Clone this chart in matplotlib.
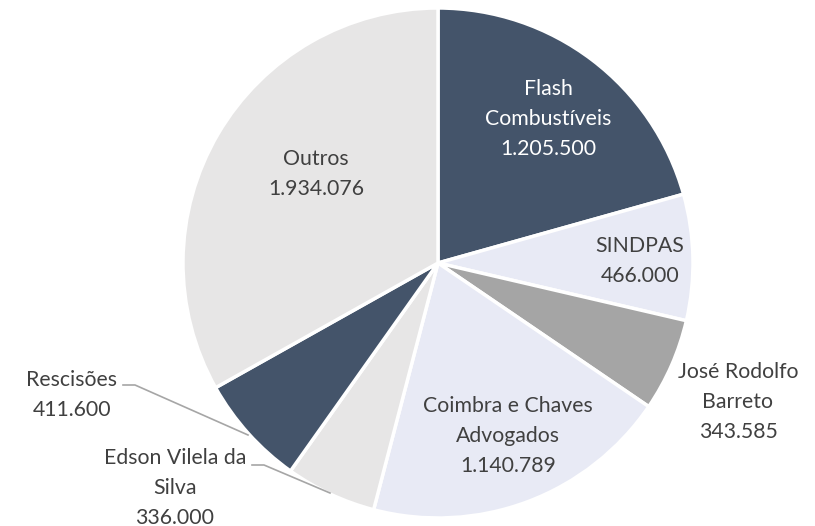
import matplotlib
matplotlib.use("Agg")
import matplotlib.pyplot as plt

labels = ["Flash\nCombustíveis", "SINDPAS", "José Rodolfo\nBarreto", "Coimbra e Chaves\nAdvogados",
          "Edson Vilela da\nSilva", "Rescisões", "Outros"]
values = [1205500, 466000, 343585, 1140789, 336000, 411600, 1934076]
colors = ["#44546a", "#e8eaf5", "#a5a5a5", "#e8eaf5", "#e7e6e6", "#44546a", "#e7e6e6"]
text_colors = ["white", "#404040", "#404040", "#404040", "#404040", "#404040", "#404040"]

# label centres in pixel coords (x, y from top)
label_pos = [(548, 119), (640, 261), (738, 402), (508, 436), (175, 488), (72, 395), (316, 174)]

def fmt(v):
    return f"{v:,}".replace(",", ".")

W, H = 815, 526
fig = plt.figure(figsize=(W / 100, H / 100), dpi=100)
ax = fig.add_axes([0, 0, 1, 1])

cx, cy, r = 438, H - 263, 255
ax.pie(values, colors=colors, startangle=90, counterclock=False, center=(cx, cy), radius=r,
       wedgeprops=dict(edgecolor="white", linewidth=2.5), frame=True)
ax.set_xlim(0, W)
ax.set_ylim(0, H)
ax.set_aspect("equal")
ax.axis("off")

for lab, v, (px, py), tc in zip(labels, values, label_pos, text_colors):
    ax.text(px, H - py, f"{lab}\n{fmt(v)}", ha="center", va="center", color=tc,
            fontsize=15.3, family=["Lato", "DejaVu Sans"], linespacing=1.6)

# leader lines
lc = "#a6a6a6"
ax.plot([123, 135, 248], [H - 385, H - 385, H - 435], color=lc, lw=1.2)
ax.plot([252, 264, 330], [H - 465, H - 465, H - 493], color=lc, lw=1.2)

fig.savefig("out.png", dpi=100, facecolor="white")
